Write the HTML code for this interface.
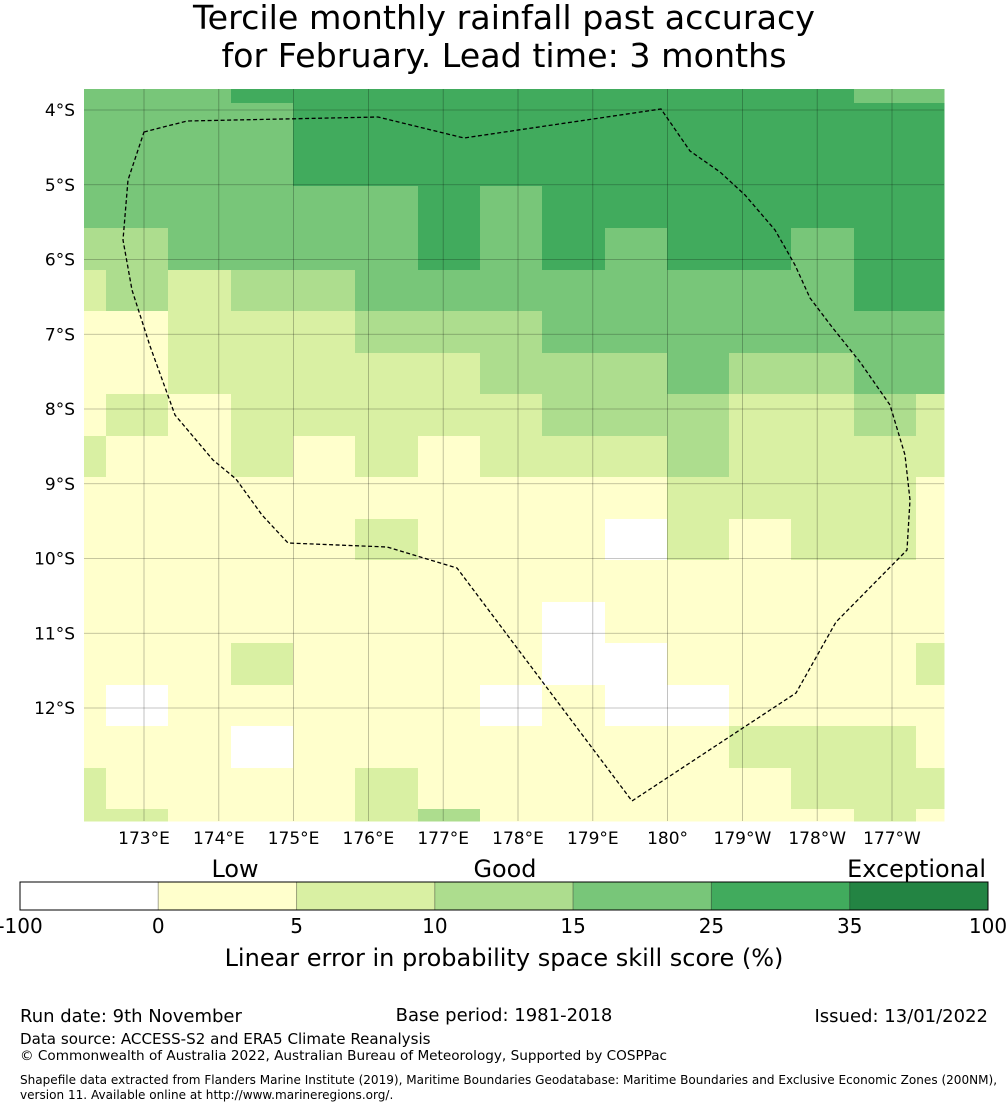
<!DOCTYPE html>
<html><head><meta charset="utf-8">
<style>
body{margin:0;background:#fff;width:1008px;height:1110px;overflow:hidden;font-family:"DejaVu Sans","Liberation Sans",sans-serif;}
svg text{font-family:"DejaVu Sans","Liberation Sans",sans-serif;fill:#000;}
</style></head>
<body>
<svg id="chart" width="1008" height="1110" viewBox="0 0 1008 1110">
<text x="504" y="29" font-size="33.3" text-anchor="middle">Tercile monthly rainfall past accuracy</text>
<text x="504" y="67" font-size="33.3" text-anchor="middle">for February. Lead time: 3 months</text>
<g id="cells"></g>
<g id="grid"></g>
<path id="eez" fill="none" stroke="#000" stroke-width="1.3" stroke-dasharray="4,2.5"/>
<g id="axes"></g>
<g id="cbar"></g>
<text x="504" y="966" font-size="24" text-anchor="middle">Linear error in probability space skill score (%)</text>
<text x="235" y="877" font-size="23.9" text-anchor="middle">Low</text>
<text x="505" y="877" font-size="23.9" text-anchor="middle">Good</text>
<text x="986" y="877" font-size="23.9" text-anchor="end">Exceptional</text>
<text x="20" y="1022" font-size="18">Run date: 9th November</text>
<text x="504" y="1021" font-size="18" text-anchor="middle">Base period: 1981-2018</text>
<text x="988" y="1022" font-size="18" text-anchor="end">Issued: 13/01/2022</text>
<text x="20" y="1044" font-size="15.1">Data source: ACCESS-S2 and ERA5 Climate Reanalysis</text>
<text x="20" y="1060" font-size="13.6">© Commonwealth of Australia 2022, Australian Bureau of Meteorology, Supported by COSPPac</text>
<text x="20" y="1084" font-size="12.05">Shapefile data extracted from Flanders Marine Institute (2019), Maritime Boundaries Geodatabase: Maritime Boundaries and Exclusive Economic Zones (200NM),</text>
<text x="20" y="1099" font-size="12.05">version 11. Available online at http://www.marineregions.org/.</text>
</svg>
<script>
const colEdges=[84,106,168,231,293,355,418,480,542,605,667,729,791,854,916,944];
const rowEdges=[89,103,145,186,228,270,311,353,394,436,477,519,560,602,643,685,726,768,809,821];
const levelColors=["#ffffff","#ffffcc","#d9f0a3","#addd8e","#78c679","#41ab5d","#238443"];
const skillLevels=[
[4,4,4,5,5,5,5,5,5,5,5,5,5,4,4],
[4,4,4,4,5,5,5,5,5,5,5,5,5,5,5],
[4,4,4,4,5,5,5,5,5,5,5,5,5,5,5],
[4,4,4,4,4,4,5,4,5,5,5,5,5,5,5],
[3,3,4,4,4,4,5,4,5,4,5,5,4,5,5],
[2,3,2,3,3,4,4,4,4,4,4,4,4,5,5],
[1,1,2,2,2,3,3,3,4,4,4,4,4,4,4],
[1,1,2,2,2,2,2,3,3,3,4,3,3,4,4],
[1,2,1,2,2,2,2,2,3,3,3,2,2,3,2],
[2,1,1,2,1,2,1,2,2,2,3,2,2,2,2],
[1,1,1,1,1,1,1,1,1,1,2,2,2,2,1],
[1,1,1,1,1,2,1,1,1,0,2,1,2,2,1],
[1,1,1,1,1,1,1,1,1,1,1,1,1,1,1],
[1,1,1,1,1,1,1,1,0,1,1,1,1,1,1],
[1,1,1,2,1,1,1,1,0,0,1,1,1,1,2],
[1,0,1,1,1,1,1,0,1,0,0,1,1,1,1],
[1,1,1,0,1,1,1,1,1,1,1,2,2,2,1],
[2,1,1,1,1,2,1,1,1,1,1,1,2,2,2],
[2,2,1,1,1,2,3,1,1,1,1,1,1,2,1]];
const lonLabels=["173°E","174°E","175°E","176°E","177°E","178°E","179°E","180°","179°W","178°W","177°W"];
const latLabels=["4°S","5°S","6°S","7°S","8°S","9°S","10°S","11°S","12°S"];
const cbarTicks=["-100","0","5","10","15","25","35","100"];
const NS="http://www.w3.org/2000/svg";
function mk(t,a,p){const e=document.createElementNS(NS,t);for(const k in a)e.setAttribute(k,a[k]);p.appendChild(e);return e;}
const lonX=i=>144+i*74.8;
const latY=i=>110+i*74.75;
const cells=document.getElementById('cells');
skillLevels.forEach((row,r)=>row.forEach((v,c)=>{
 const e=mk('rect',{x:colEdges[c],y:rowEdges[r],width:colEdges[c+1]-colEdges[c]+0.5,height:rowEdges[r+1]-rowEdges[r]+0.5,fill:levelColors[v]},cells);
 
 
}));
const grid=document.getElementById('grid');const axes=document.getElementById('axes');
lonLabels.forEach((l,i)=>{
 const x=lonX(i);
 const g=mk('line',{x1:x,x2:x,y1:89,y2:821,stroke:'#000','stroke-opacity':0.3,'stroke-width':0.8},grid);
 
 
 const t=mk('text',{x:x,y:844,'font-size':17,'text-anchor':'middle'},axes);t.textContent=l;
 
 
});
latLabels.forEach((l,i)=>{
 const y=latY(i);
 const g=mk('line',{x1:84,x2:944,y1:y,y2:y,stroke:'#000','stroke-opacity':0.3,'stroke-width':0.8},grid);
 
 
 const t=mk('text',{x:75,y:y+6,'font-size':17,'text-anchor':'end'},axes);t.textContent=l;
 
 
});
document.getElementById('eez').setAttribute('d',"M144,132 L187,121 L378,117 L464,138 L661,109 L690,151 L720,172 L745,195 L775,230 L795,265 L810,298 L832,327 L860,362 L890,405 L905,455 L910,500 L907,550 L836,622 L796,693 L632,801 L457,568 L387,547 L288,543 L262,515 L236,479 L213,460 L175,415 L150,346 L132,290 L123,240 L128,180 Z");
const cb=document.getElementById('cbar');
const segW=(988-20)/7;
for(let i=0;i<7;i++){
 const e=mk('rect',{x:20+i*segW,y:882,width:segW,height:28,fill:levelColors[i],stroke:'#000','stroke-opacity':0.25,'stroke-width':1},cb);
 
 
}
const fr=mk('rect',{x:20,y:882,width:968,height:28,fill:'none',stroke:'#000','stroke-width':1},cb);


cbarTicks.forEach((l,i)=>{
 const t=mk('text',{x:20+i*segW,y:933,'font-size':20,'text-anchor':'middle'},cb);t.textContent=l;
 
 
});
</script>
</body></html>
